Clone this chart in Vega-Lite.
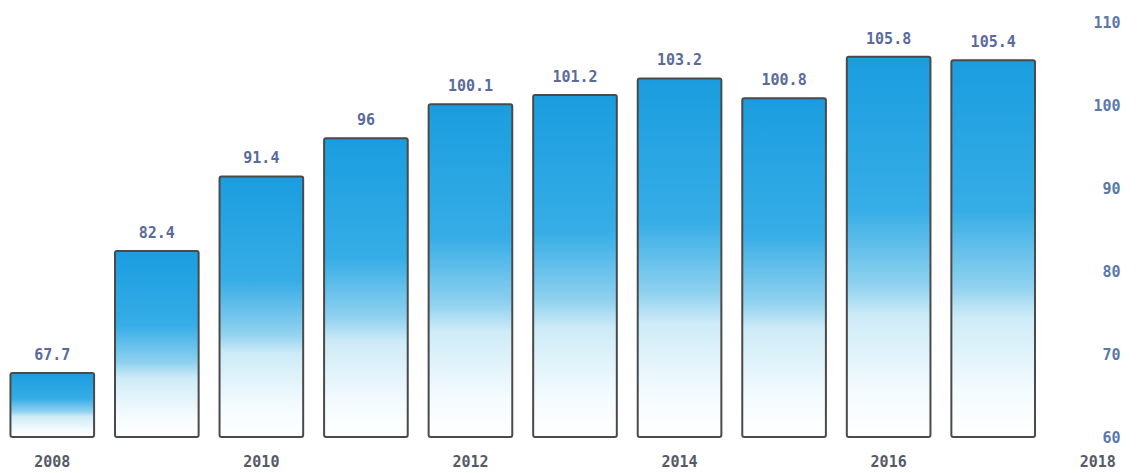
{
  "$schema": "https://vega.github.io/schema/vega-lite/v6.json",
  "autosize": {"type": "none"},
  "padding": {"left": 0, "top": 22, "right": 0, "bottom": 36},
  "width": 1150,
  "height": 415,
  "background": "white",
  "config": {"view": {"stroke": null}},
  "data": {"values": [
    {"year": 2008, "value": 67.7},
    {"year": 2009, "value": 82.4},
    {"year": 2010, "value": 91.4},
    {"year": 2011, "value": 96},
    {"year": 2012, "value": 100.1},
    {"year": 2013, "value": 101.2},
    {"year": 2014, "value": 103.2},
    {"year": 2015, "value": 100.8},
    {"year": 2016, "value": 105.8},
    {"year": 2017, "value": 105.4}
  ]},
  "encoding": {
    "x": {"field": "year", "type": "ordinal",
      "scale": {"domain": [2008,2009,2010,2011,2012,2013,2014,2015,2016,2017,2018], "paddingInner": 0.2, "paddingOuter": 0.1},
      "axis": {"values": [2008,2010,2012,2014,2016,2018], "title": null, "labelAngle": 0, "domain": false, "ticks": false,
        "labelPadding": 17, "labelFont": "DejaVu Sans Mono", "labelFontWeight": "bold", "labelFontSize": 15, "labelColor": "#555a66"}},
    "y": {"field": "value", "type": "quantitative",
      "scale": {"domain": [60, 110], "nice": false, "zero": false},
      "axis": {"orient": "right", "offset": -30, "labelAlign": "right", "labelPadding": 0, "values": [60,70,80,90,100,110],
        "title": null, "domain": false, "ticks": false, "grid": false,
        "labelFont": "DejaVu Sans Mono", "labelFontWeight": "bold", "labelFontSize": 15, "labelColor": "#5a78a8"}}
  },
  "layer": [
    {"mark": {"type": "bar", "stroke": "#4a4a4a", "strokeWidth": 2, "cornerRadius": 2,
      "fill": {"gradient": "linear", "x1": 0, "y1": 0, "x2": 0, "y2": 1,
        "stops": [
          {"offset": 0, "color": "#1a9ddf"},
          {"offset": 0.4, "color": "#36ade6"},
          {"offset": 0.6, "color": "#8fd1ef"},
          {"offset": 0.68, "color": "#cdebf7"},
          {"offset": 0.88, "color": "#f4fbfe"},
          {"offset": 1, "color": "#ffffff"}
        ]}},
      "encoding": {"y2": {"datum": 60}}},
    {"mark": {"type": "text", "baseline": "bottom", "dy": -10, "font": "DejaVu Sans Mono", "fontWeight": "bold", "fontSize": 15, "color": "#5a6a9c"},
      "encoding": {"text": {"field": "value", "type": "quantitative"}}}
  ]
}
